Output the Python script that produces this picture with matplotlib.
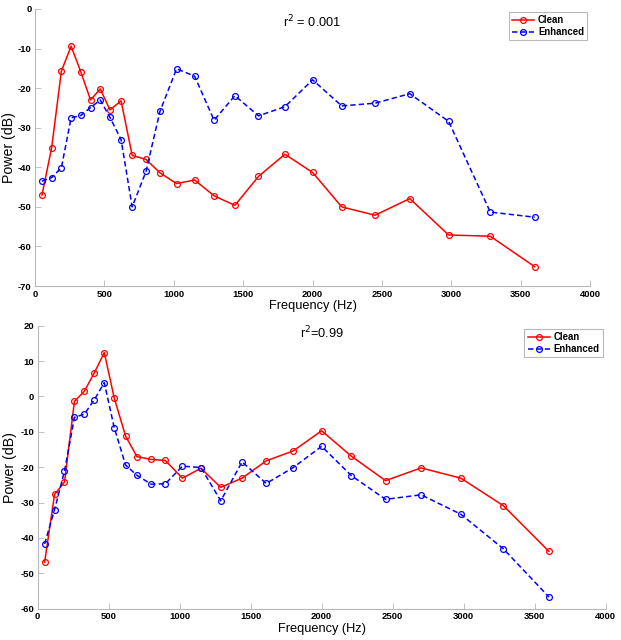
import matplotlib
matplotlib.use('Agg')
import matplotlib.pyplot as plt
import numpy as np

plt.rcParams['font.family'] = ['Liberation Sans', 'DejaVu Sans']
plt.rcParams['axes.unicode_minus'] = False

# band centre frequencies (Hz)
freq = [50, 120, 190, 260, 330, 400, 470, 540, 620, 700, 800, 900, 1020, 1150,
        1290, 1440, 1610, 1800, 2000, 2210, 2450, 2700, 2980, 3280, 3600]

# top panel, r^2 = 0.001
clean_top = [-47.0, -35.0, -15.7, -9.4, -15.9, -23.0, -20.2, -25.5, -23.2, -37.0,
             -38.0, -41.4, -44.1, -43.2, -47.2, -49.6, -42.3, -36.7, -41.3, -50.0,
             -52.1, -47.9, -57.1, -57.4, -65.1]
enh_top = [-43.5, -42.6, -40.1, -27.5, -26.9, -24.9, -23.0, -27.4, -33.0, -50.0,
           -41.0, -25.9, -15.1, -17.0, -28.1, -21.9, -27.0, -24.7, -17.9, -24.5,
           -23.8, -21.4, -28.4, -51.3, -52.6]

# bottom panel, r^2 = 0.99
clean_bot = [-46.9, -27.7, -24.2, -1.4, 1.5, 6.7, 12.4, -0.4, -11.2, -17.0,
             -17.8, -18.1, -23.1, -20.3, -25.7, -23.1, -18.2, -15.4, -9.7, -16.9,
             -23.8, -20.2, -23.1, -30.9, -43.8]
enh_bot = [-41.7, -32.0, -21.1, -5.9, -5.0, -0.9, 3.9, -8.8, -19.4, -22.3,
           -24.8, -24.7, -19.7, -20.1, -29.5, -18.5, -24.6, -20.1, -14.1, -22.4,
           -29.1, -27.8, -33.3, -43.1, -56.7]

fig = plt.figure(figsize=(6.21, 6.4), dpi=100)
ax1 = fig.add_axes([0.0564, 0.553, 0.894, 0.433])
ax2 = fig.add_axes([0.0604, 0.049, 0.915, 0.442])

panels = [(ax1, clean_top, enh_top, r'r$^2$ = 0.001', (-70, 0), 0.953, -0.046),
          (ax2, clean_bot, enh_bot, r'r$^2$=0.99', (-60, 20), 0.975, -0.049)]

for ax, c, e, txt, ylim, ty, lx in panels:
    ax.plot(freq, c, '-o', color='red', lw=1.1, ms=4.2, mfc='none', mew=0.9, label='Clean')
    ax.plot(freq, e, '--o', color='blue', lw=1.1, ms=4.2, mfc='none', mew=0.9,
            dashes=(3.5, 2), label='Enhanced')
    ax.set_xlim(0, 4000)
    ax.set_ylim(*ylim)
    ax.set_xticks(np.arange(0, 4001, 500))
    ax.set_yticks(np.arange(ylim[0], ylim[1] + 1, 10))
    for s in ['top', 'right']:
        ax.spines[s].set_visible(False)
    for s in ['left', 'bottom']:
        ax.spines[s].set_color('#b8b8b8')
        ax.spines[s].set_linewidth(0.8)
    ax.tick_params(direction='in', length=4, width=0.6, color='#b8b8b8', pad=2.5)
    for lab in ax.get_xticklabels() + ax.get_yticklabels():
        lab.set_fontweight('bold')
        lab.set_fontsize(6.8)
    ax.set_xlabel('Frequency (Hz)', fontsize=9.2, labelpad=1)
    ax.set_ylabel('Power (dB)', fontsize=10.2, va='center')
    ax.yaxis.set_label_coords(lx, 0.5)
    ax.text(0.5, ty, txt, transform=ax.transAxes, ha='center', va='center',
            fontsize=9.2)
    leg = ax.legend(loc='upper right', frameon=True, fancybox=False,
                    prop={'weight': 'bold', 'size': 6.9},
                    handlelength=2.3, borderpad=0.35, labelspacing=0.2,
                    borderaxespad=0.3, handletextpad=0.4)
    leg.get_frame().set_edgecolor('#a8a8a8')
    leg.get_frame().set_linewidth(0.8)

fig.savefig('out.png', dpi=100)
